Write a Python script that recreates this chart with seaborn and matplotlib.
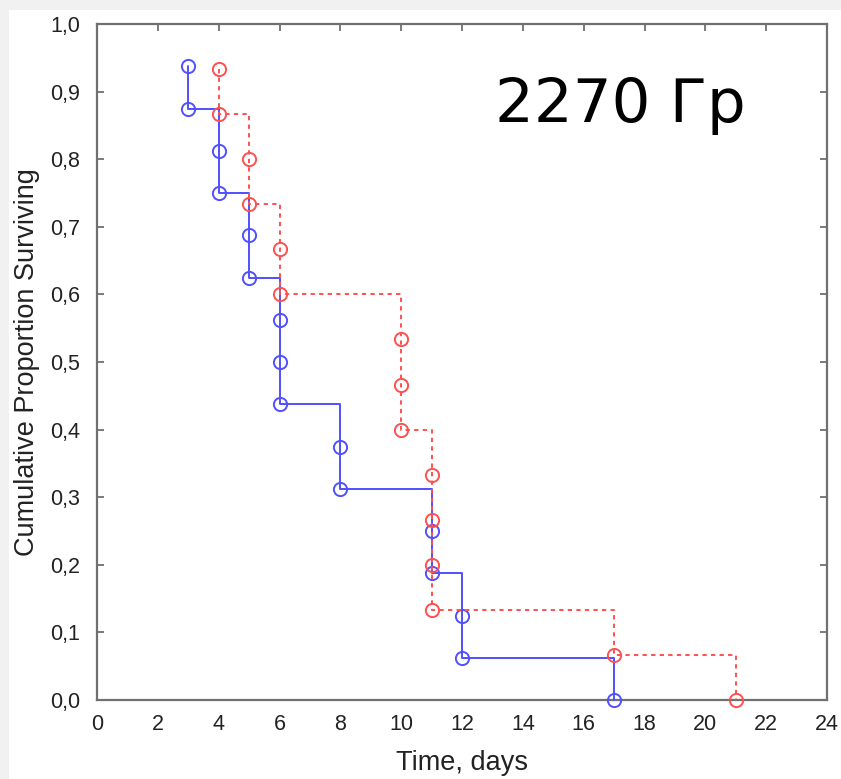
import matplotlib
matplotlib.use("Agg")
import matplotlib.pyplot as plt
from matplotlib.patches import Rectangle
from matplotlib.ticker import FuncFormatter
import pandas as pd
import seaborn as sns

# Kaplan-Meier survival estimates: event times (days) and cumulative survival
group_a_days = [3, 3, 4, 4, 5, 5, 6, 6, 6, 8, 8, 11, 11, 12, 12, 17]
group_a_surv = [0.9375, 0.875, 0.8125, 0.75, 0.6875, 0.625, 0.5625, 0.5, 0.4375,
                0.375, 0.3125, 0.25, 0.1875, 0.125, 0.0625, 0.0]

group_b_days = [4, 4, 5, 5, 6, 6, 10, 10, 10, 11, 11, 11, 11, 17, 21]
group_b_surv = [0.9333, 0.8667, 0.8, 0.7333, 0.6667, 0.6, 0.5333, 0.4667, 0.4,
                0.3333, 0.2667, 0.2, 0.1333, 0.0667, 0.0]

x_ticks = [0, 2, 4, 6, 8, 10, 12, 14, 16, 18, 20, 22, 24]
y_ticks = [0.0, 0.1, 0.2, 0.3, 0.4, 0.5, 0.6, 0.7, 0.8, 0.9, 1.0]

blue = "#5050ff"
red = "#ff5050"

sns.set_theme(style="white")
plt.rcParams["font.family"] = ["Liberation Sans", "DejaVu Sans"]

fig = plt.figure(figsize=(8.41, 7.79), dpi=100, facecolor="#f1f1f1")
fig.patches.append(Rectangle((9 / 841, 0), 1, 1 - 10 / 779, transform=fig.transFigure,
                             facecolor="white", edgecolor="none", zorder=-10))
ax = fig.add_axes([97 / 841, 1 - 700 / 779, (827 - 97) / 841, (700 - 24) / 779])
ax.set_facecolor("white")
ax.set_zorder(1)

df_a = pd.DataFrame({"days": group_a_days, "surv": group_a_surv})
df_b = pd.DataFrame({"days": group_b_days, "surv": group_b_surv})

common = dict(estimator=None, sort=False, drawstyle="steps-post", marker="o",
              markersize=9.5, markerfacecolor="white", markeredgewidth=1.4,
              linewidth=1.4, ax=ax, legend=False, clip_on=False)
sns.lineplot(data=df_a, x="days", y="surv", color=blue, markeredgecolor=blue,
             zorder=3, **common)
sns.lineplot(data=df_b, x="days", y="surv", color=red, markeredgecolor=red,
             linestyle=(0, (2.2, 2.2)), zorder=4, **common)
for ln in ax.lines:
    ln.set_markerfacecolor("none")

ax.set_xlim(0, 24)
ax.set_ylim(0, 1.0)
ax.set_xticks(x_ticks)
ax.set_yticks(y_ticks)
ax.yaxis.set_major_formatter(FuncFormatter(lambda v, p: f"{v:.1f}".replace(".", ",")))
ax.xaxis.set_major_formatter(FuncFormatter(lambda v, p: f"{v:g}"))

ax.tick_params(axis="y", which="both", direction="in", left=True, right=True,
               length=5, width=1.3, color="#707070", labelsize=15.5, pad=12,
               labelcolor="#222222")
ax.tick_params(axis="x", which="both", direction="in", bottom=False, top=True,
               length=5, width=1.3, color="#707070", labelsize=15.5, pad=10,
               labelcolor="#222222")

for s in ax.spines.values():
    s.set_color("#707070")
    s.set_linewidth(1.6)

ax.set_xlabel("Time, days", fontsize=19.5, color="#222222", labelpad=11)
ax.set_ylabel("Cumulative Proportion Surviving", fontsize=19.5, color="#222222",
              labelpad=7)

fig.text(495 / 841, 1 - 122 / 779, "2270 Гр", fontsize=44, family="DejaVu Sans",
         color="black", ha="left", va="baseline", zorder=5)

fig.savefig("out.png", dpi=100, facecolor=fig.get_facecolor())
